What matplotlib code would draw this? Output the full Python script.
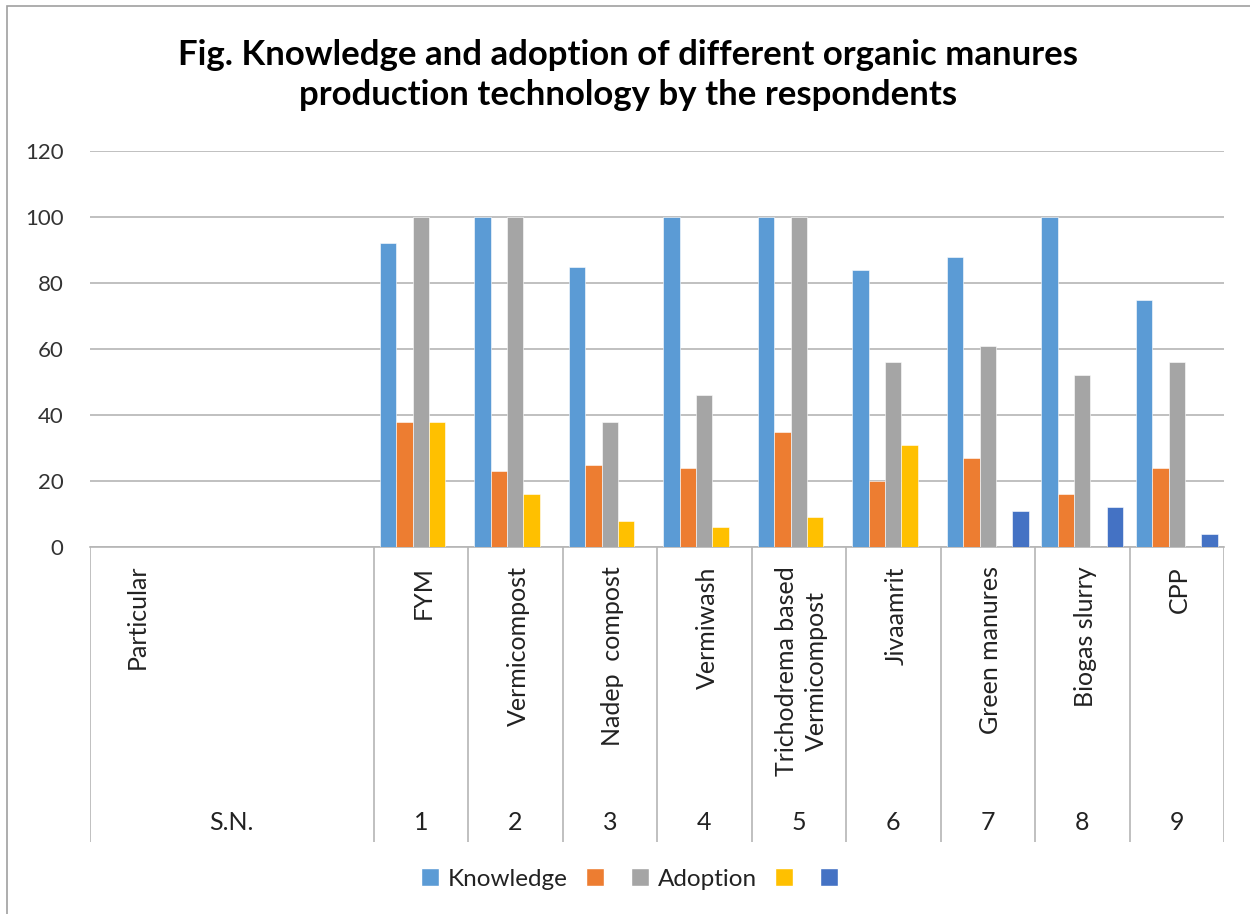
import matplotlib
matplotlib.use("Agg")
import matplotlib.pyplot as plt
from matplotlib.patches import Patch, Rectangle
import numpy as np

plt.rcParams['font.family'] = ['Lato', 'DejaVu Sans']

# data
names = ["FYM", "Vermicompost", "Nadep  compost", "Vermiwash",
         "Trichodrema based\nVermicompost", "Jivaamrit", "Green manures",
         "Biogas slurry", "CPP"]
sn = ["1", "2", "3", "4", "5", "6", "7", "8", "9"]
knowledge = [92, 100, 85, 100, 100, 84, 88, 100, 75]
series2 = [38, 23, 25, 24, 35, 20, 27, 16, 24]
adoption = [100, 100, 38, 46, 100, 56, 61, 52, 56]
series4 = [38, 16, 8, 6, 9, 31, 0, 0, 0]
series5 = [0, 0, 0, 0, 0, 0, 11, 12, 4]
yticks = [0, 20, 40, 60, 80, 100, 120]

series = [knowledge, series2, adoption, series4, series5]
labels = ["Knowledge", "", "Adoption", "", ""]
colors = ["#5B9BD5", "#ED7D31", "#A5A5A5", "#FFC000", "#4472C4"]

W, H = 1250, 914
fig = plt.figure(figsize=(W / 100, H / 100), dpi=100)

# chart border
fig.patches.append(Rectangle((7 / W, -0.01), 1.1, 1 - 6 / H + 0.01,
                             transform=fig.transFigure, fill=False,
                             edgecolor="#A0A0A0", linewidth=1.2))

left, right = 90 / W, 1224 / W
y0, ytop, ybot = 1 - 547 / H, 1 - 151 / H, 1 - 842 / H
ax = fig.add_axes([left, y0, right - left, ytop - y0])

# 3 empty slots for the header row, then the 9 technologies
n_empty = 3
xs = np.arange(len(names)) + n_empty
bw = 0.1728
for k, vals in enumerate(series):
    ax.bar(xs + (k - 2) * bw, vals, width=bw, color=colors[k],
           edgecolor="white", linewidth=0.4, zorder=3)

ax.set_xlim(-0.5, n_empty + len(names) - 0.5)
ax.set_ylim(0, 120)
ax.set_yticks(yticks)
ax.set_xticks([])
ax.tick_params(axis="y", length=0, labelsize=16, labelcolor="#333333", pad=19)
ax.grid(axis="y", color="#B5B5B5", linewidth=1.2, zorder=0)
for s in ["left", "right", "top"]:
    ax.spines[s].set_visible(False)
ax.spines["bottom"].set_color("#B5B5B5")
ax.spines["bottom"].set_linewidth(1.2)

# multi-level category axis below
lab = fig.add_axes([left, ybot, right - left, y0 - ybot])
lab.set_xlim(ax.get_xlim())
lab.set_ylim(1, 0)
lab.axis("off")
seps = [-0.5] + [x - 0.5 for x in xs] + [xs[-1] + 0.5]
for x in seps:
    lab.plot([x, x], [0, 1], color="#B5B5B5", linewidth=1.2)

txt = dict(fontsize=18, color="#222222")
lab.text(0, 0.06, "Particular", rotation=90, ha="center", va="top", **txt)
lab.text(1, 0.935, "S.N.", ha="center", va="center", **txt)
for x, nm, s in zip(xs, names, sn):
    lab.text(x + 0.03, 0.065, nm, rotation=90, ha="center", va="top",
             multialignment="center", linespacing=1.4, **txt)
    lab.text(x, 0.935, s, ha="center", va="center", **txt)

fig.text(0.5025, 1 - 75 / H,
         "Fig. Knowledge and adoption of different organic manures\nproduction technology by the respondents",
         ha="center", va="center", fontsize=25, fontweight="bold",
         color="black", linespacing=1.28)

handles = [Patch(facecolor=c, edgecolor="white") for c in colors]
fig.legend(handles, labels, loc="center", bbox_to_anchor=(634 / W, 1 - 879 / H),
           ncol=5, frameon=False, fontsize=17.5, handlelength=0.75,
           handleheight=0.75, handletextpad=0.35, columnspacing=0.75,
           labelcolor="#222222")

fig.savefig("out.png", dpi=100)
